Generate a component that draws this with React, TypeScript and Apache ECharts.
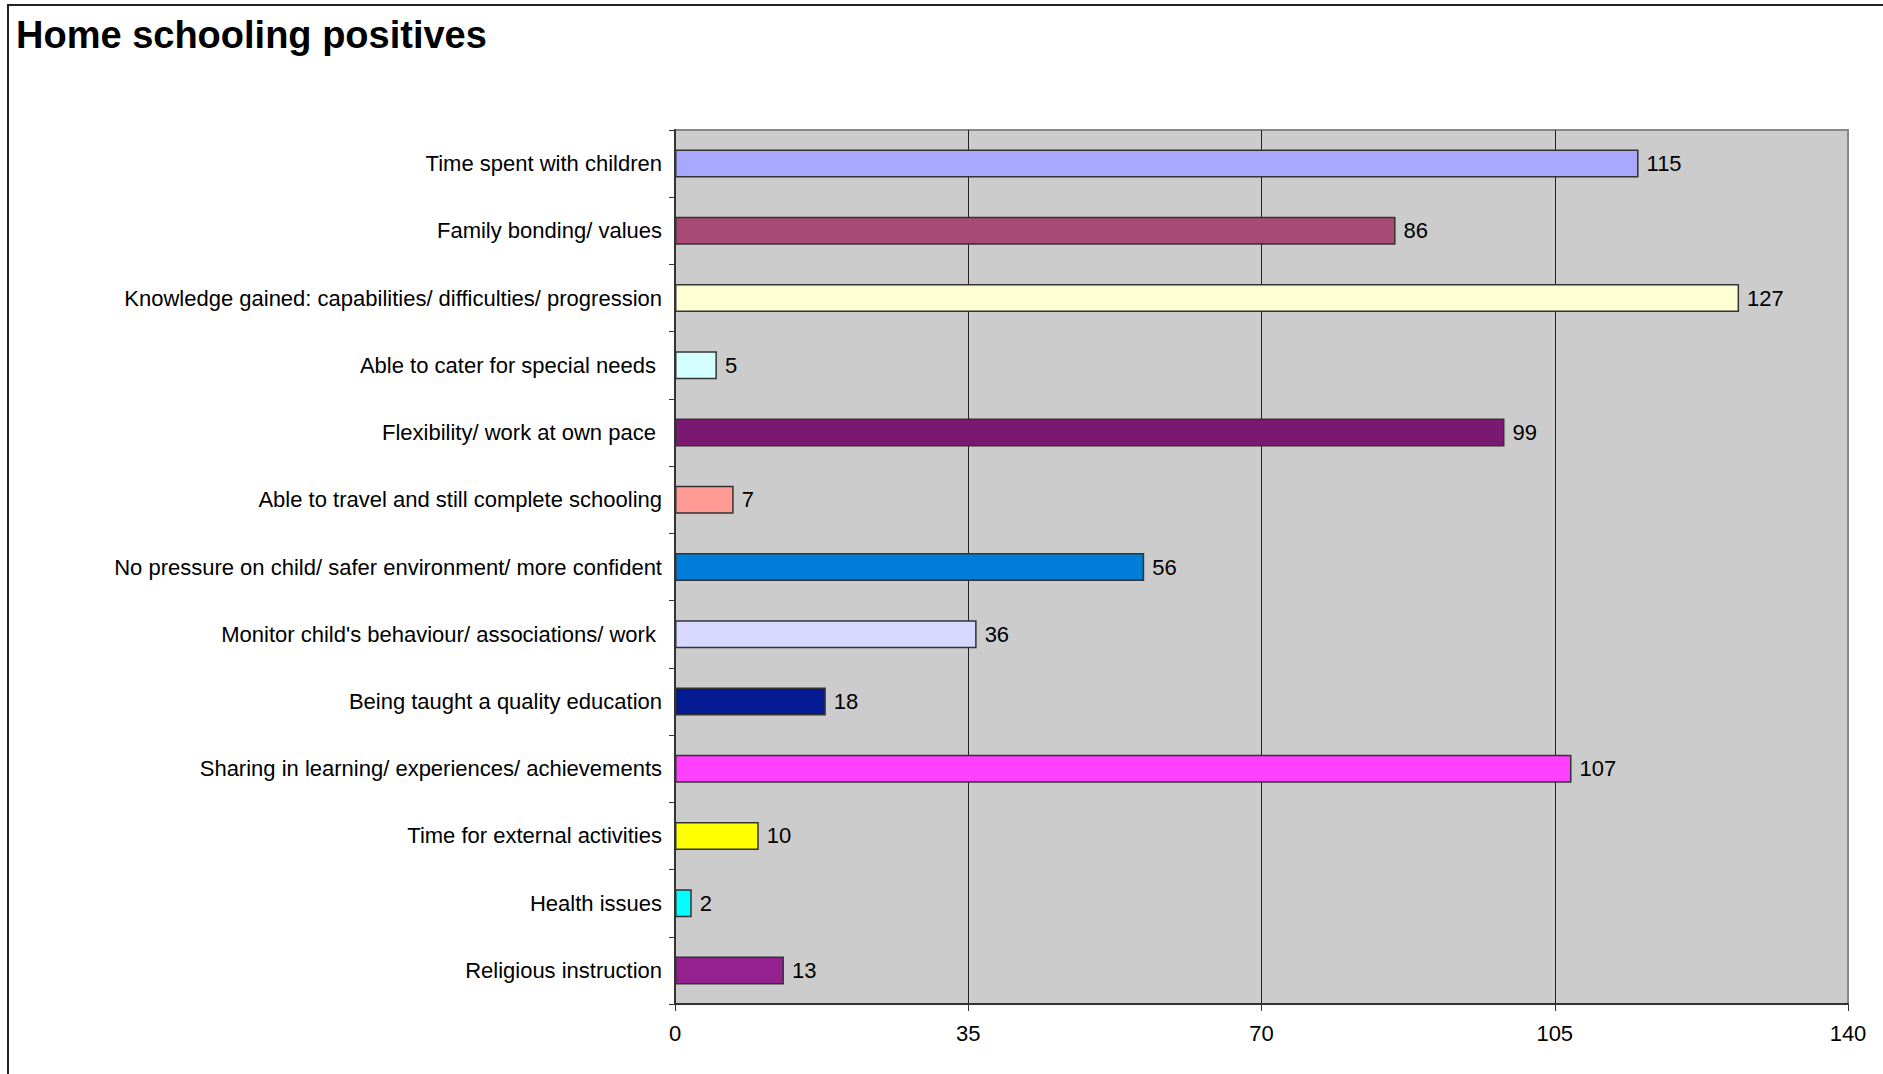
import React, { useEffect, useRef } from "react";
import * as echarts from "echarts";

const categories = [
  "Time spent with children",
  "Family bonding/ values",
  "Knowledge gained: capabilities/ difficulties/ progression",
  "Able to cater for special needs ",
  "Flexibility/ work at own pace ",
  "Able to travel and still complete schooling",
  "No pressure on child/ safer environment/ more confident",
  "Monitor child's behaviour/ associations/ work ",
  "Being taught a quality education",
  "Sharing in learning/ experiences/ achievements",
  "Time for external activities",
  "Health issues",
  "Religious instruction",
];

const values = [115, 86, 127, 5, 99, 7, 56, 36, 18, 107, 10, 2, 13];

const barColors = [
  "#a8a8ff",
  "#a94a75",
  "#ffffd4",
  "#d4ffff",
  "#7a1872",
  "#ff9a94",
  "#007dd8",
  "#d7d8ff",
  "#031a93",
  "#ff40ff",
  "#ffff00",
  "#00ffff",
  "#93218f",
];

const xTicks = [0, 35, 70, 105, 140];

const FONT = "'Liberation Sans', Arial, sans-serif";

export default function App() {
  const ref = useRef<HTMLDivElement>(null);

  useEffect(() => {
    if (!ref.current) return;
    const chart = echarts.init(ref.current, undefined, { renderer: "svg" });
    chart.setOption({
      animation: false,
      backgroundColor: "#ffffff",
      title: {
        text: "Home schooling positives",
        left: 11,
        top: 11,
        textStyle: {
          fontFamily: FONT,
          fontSize: 38,
          fontWeight: "bold",
          color: "#000",
        },
      },
      graphic: [
        {
          type: "rect",
          shape: { x: 8, y: 5, width: 1950, height: 1150 },
          style: { fill: "none", stroke: "#222", lineWidth: 2 },
          silent: true,
        },
      ],
      grid: {
        left: 675,
        right: 35,
        top: 130,
        bottom: 70,
        show: true,
        backgroundColor: "#cccccc",
        borderColor: "#888888",
        borderWidth: 2,
      },
      xAxis: {
        type: "value",
        min: xTicks[0],
        max: xTicks[xTicks.length - 1],
        interval: xTicks[1] - xTicks[0],
        axisLine: { show: true, lineStyle: { color: "#333", width: 2 } },
        axisTick: { show: true, length: 7, lineStyle: { color: "#333", width: 1 } },
        axisLabel: {
          margin: 18,
          fontFamily: FONT,
          fontSize: 22,
          color: "#000",
        },
        splitLine: {
          show: true,
          lineStyle: { color: ["#333", "#222", "#222", "#222", "#888"], width: 1 },
        },
      },
      yAxis: {
        type: "category",
        data: categories,
        inverse: true,
        axisLine: { show: true, lineStyle: { color: "#333", width: 2 } },
        axisTick: { show: true, length: 6, lineStyle: { color: "#333", width: 1 } },
        axisLabel: {
          margin: 13,
          fontFamily: FONT,
          fontSize: 22,
          color: "#000",
        },
        splitLine: { show: false },
      },
      series: [
        {
          type: "bar",
          barWidth: 28,
          data: values.map((v, i) => ({
            value: v,
            itemStyle: {
              color: barColors[i],
              borderColor: "#333",
              borderWidth: 1.5,
            },
          })),
          label: {
            show: true,
            position: "right",
            distance: 8,
            fontFamily: FONT,
            fontSize: 22,
            color: "#000",
          },
        },
      ],
    });
    return () => chart.dispose();
  }, []);

  return (
    <div
      ref={ref}
      style={{ position: "fixed", left: 0, top: 0, width: 1883, height: 1074 }}
    />
  );
}
